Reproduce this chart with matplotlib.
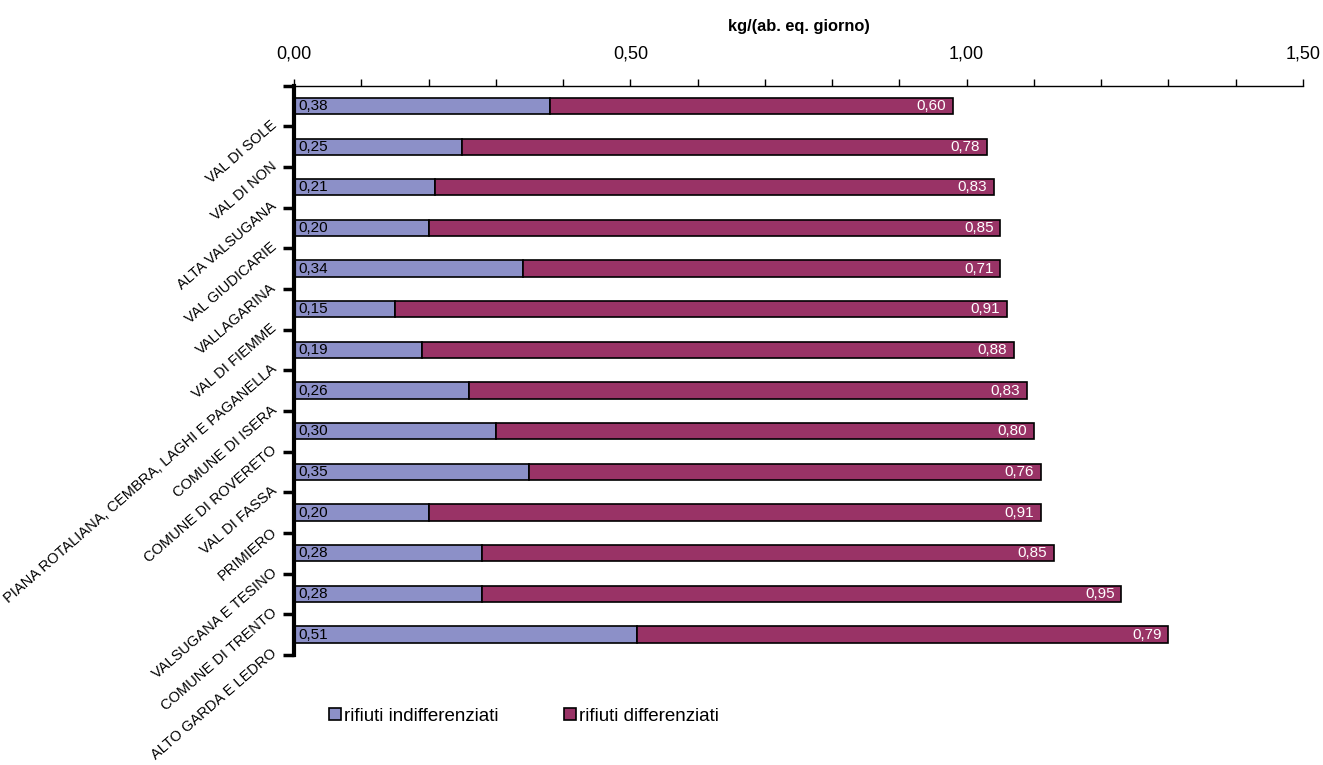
import matplotlib
matplotlib.use("Agg")
import matplotlib.pyplot as plt
import numpy as np

areas = ["VAL DI SOLE", "VAL DI NON", "ALTA VALSUGANA", "VAL GIUDICARIE",
         "VALLAGARINA", "VAL DI FIEMME", "PIANA ROTALIANA, CEMBRA, LAGHI E PAGANELLA",
         "COMUNE DI ISERA", "COMUNE DI ROVERETO", "VAL DI FASSA", "PRIMIERO",
         "VALSUGANA E TESINO", "COMUNE DI TRENTO", "ALTO GARDA E LEDRO"]
indiff = [0.38, 0.25, 0.21, 0.20, 0.34, 0.15, 0.19, 0.26, 0.30, 0.35, 0.20, 0.28, 0.28, 0.51]
diff = [0.60, 0.78, 0.83, 0.85, 0.71, 0.91, 0.88, 0.83, 0.80, 0.76, 0.91, 0.85, 0.95, 0.79]

BLUE = "#8c90c8"
PURPLE = "#993366"

def fmt(v):
    return f"{v:.2f}".replace(".", ",")

def main():
    plt.rcParams['font.family'] = ['Liberation Sans', 'DejaVu Sans']
    fig = plt.figure(figsize=(13.23, 7.65), dpi=100)
    ax = fig.add_axes([0.2222, 0.144, 0.7627, 0.744])

    y = np.arange(len(areas))
    ind = np.array(indiff)
    dif = np.array(diff)

    ax.barh(y, ind, height=0.4, color=BLUE, edgecolor='black', linewidth=1.2,
            label="rifiuti indifferenziati")
    ax.barh(y, dif, left=ind, height=0.4, color=PURPLE, edgecolor='black', linewidth=1.2,
            label="rifiuti differenziati")

    for i in range(len(areas)):
        ax.text(0.006, y[i], fmt(ind[i]), va='center', ha='left', fontsize=11, color='black')
        ax.text(ind[i] + dif[i] - 0.01, y[i], fmt(dif[i]), va='center', ha='right',
                fontsize=11, color='white')

    ax.set_xlim(0, 1.5)
    ax.set_ylim(len(areas) - 0.5, -0.5)

    ax.xaxis.tick_top()
    ax.xaxis.set_label_position('top')
    ax.set_xticks([0, 0.5, 1.0, 1.5])
    ax.set_xticklabels([fmt(v) for v in [0, 0.5, 1.0, 1.5]], fontsize=13)
    ax.set_xticks(np.arange(0, 1.51, 0.1), minor=True)
    ax.tick_params(axis='x', which='both', direction='out', length=5, width=1, pad=12)
    ax.set_xlabel("kg/(ab. eq. giorno)", fontsize=11.8, fontweight='bold', labelpad=10)

    bounds = np.arange(-0.5, len(areas), 1.0)
    ax.set_yticks(bounds)
    ax.set_yticklabels([""] + areas, rotation=41, ha='right', va='baseline',
                       rotation_mode='anchor', fontsize=10.5)
    ax.tick_params(axis='y', which='both', direction='out', length=8, width=2.5, pad=4)

    ax.spines['right'].set_visible(False)
    ax.spines['bottom'].set_visible(False)
    ax.spines['left'].set_linewidth(3)
    ax.spines['top'].set_linewidth(1)

    fig.legend(loc='center left', bbox_to_anchor=(0.236, 0.064), ncol=2, frameon=False,
               fontsize=13.5, handlelength=0.65, handleheight=0.65, handletextpad=0.15,
               columnspacing=3.5)

    fig.savefig("out.png", dpi=100)

if __name__ == "__main__":
    main()
